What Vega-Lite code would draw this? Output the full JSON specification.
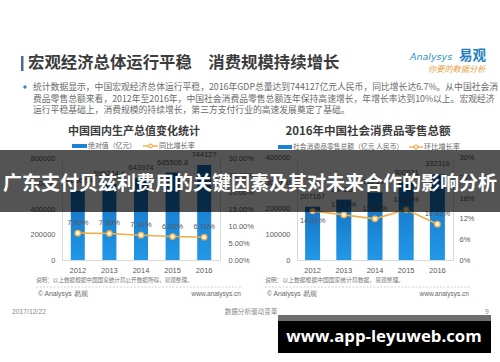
{
  "$schema": "https://vega.github.io/schema/vega-lite/v6.json",
  "width": 500,
  "height": 362,
  "autosize": {"type": "none"},
  "padding": 0,
  "background": "white",
  "config": {"view": {"stroke": null}, "font": "Noto Sans CJK SC"},
  "datasets": {
    "gdp": [
      {"year": "2012", "value": 540367.4, "growth": 0.079},
      {"year": "2013", "value": 595244.4, "growth": 0.078},
      {"year": "2014", "value": 643974, "growth": 0.073},
      {"year": "2015", "value": 685505.8, "growth": 0.069},
      {"year": "2016", "value": 744127, "growth": 0.067}
    ],
    "retail": [
      {"year": "2012", "value": 207167, "growth": 0.1431},
      {"year": "2013", "value": 234380, "growth": 0.1314},
      {"year": "2014", "value": 262394, "growth": 0.1198},
      {"year": "2015", "value": 300931, "growth": 0.1469},
      {"year": "2016", "value": 332316, "growth": 0.1043}
    ]
  },
  "data": {"values": [{}]},
  "resolve": {"scale": {"x": "independent", "y": "independent"}, "axis": {"x": "independent", "y": "independent"}},
  "layer": [
    {
      "data": {"name": "gdp"},
      "mark": {"type": "bar", "width": 14, "color": {"gradient": "linear", "x1": 0, "y1": 0, "x2": 0, "y2": 1, "stops": [{"offset": 0, "color": "#1570c4"}, {"offset": 1, "color": "#2198e6"}]}},
      "encoding": {
        "x": {"field": "year", "type": "ordinal", "scale": {"range": [62, 220]}, "axis": {"orient": "bottom", "offset": -102, "ticks": false, "domainColor": "#d9d9d9", "labelColor": "#595959", "labelFont": "Liberation Sans", "labelFontSize": 7.5, "labelPadding": 6, "labelAngle": 0, "title": null}},
        "y": {"field": "value", "type": "quantitative", "scale": {"domain": [0, 800000], "range": [260, 158], "nice": false}, "axis": {"orient": "left", "offset": -62, "values": [0, 200000, 400000, 600000, 800000], "format": "d", "ticks": false, "grid": false, "domainColor": "#d9d9d9", "labelColor": "#595959", "labelFont": "Liberation Sans", "labelFontSize": 7.5, "labelPadding": 7, "title": null}}
      }
    },
    {
      "data": {"name": "gdp"},
      "mark": {"type": "text", "dy": -10, "color": "#595959", "font": "Liberation Sans", "fontSize": 7.5},
      "encoding": {
        "x": {"field": "year", "type": "ordinal", "scale": {"range": [62, 220]}, "axis": null},
        "y": {"field": "value", "type": "quantitative", "scale": {"domain": [0, 800000], "range": [260, 158], "nice": false}, "axis": null},
        "text": {"field": "value", "type": "nominal"}
      }
    },
    {
      "data": {"name": "gdp"},
      "mark": {"type": "line", "color": "#f0ad45", "strokeWidth": 1.6},
      "encoding": {
        "x": {"field": "year", "type": "ordinal", "scale": {"range": [62, 220]}, "axis": null},
        "y": {"field": "growth", "type": "quantitative", "scale": {"domain": [0, 0.3], "range": [260, 158], "nice": false}, "axis": {"orient": "right", "offset": -280, "values": [0, 0.05, 0.1, 0.15, 0.2, 0.25, 0.3], "format": ".2%", "ticks": false, "grid": false, "domainColor": "#d9d9d9", "labelColor": "#595959", "labelFont": "Liberation Sans", "labelFontSize": 7.5, "labelPadding": 8, "title": null}}
      }
    },
    {
      "data": {"name": "gdp"},
      "mark": {"type": "point", "filled": true, "fill": "#fff8ea", "stroke": "#f0ad45", "strokeWidth": 1.3, "size": 30, "opacity": 1},
      "encoding": {
        "x": {"field": "year", "type": "ordinal", "scale": {"range": [62, 220]}, "axis": null},
        "y": {"field": "growth", "type": "quantitative", "scale": {"domain": [0, 0.3], "range": [260, 158], "nice": false}, "axis": null}
      }
    },
    {
      "data": {"name": "gdp"},
      "mark": {"type": "text", "dy": -10, "color": "#595959", "font": "Liberation Sans", "fontSize": 7.5},
      "encoding": {
        "x": {"field": "year", "type": "ordinal", "scale": {"range": [62, 220]}, "axis": null},
        "y": {"field": "growth", "type": "quantitative", "scale": {"domain": [0, 0.3], "range": [260, 158], "nice": false}, "axis": null},
        "text": {"field": "growth", "type": "quantitative", "format": ".2%"}
      }
    },
    {
      "data": {"name": "retail"},
      "mark": {"type": "bar", "width": 15, "color": {"gradient": "linear", "x1": 0, "y1": 0, "x2": 0, "y2": 1, "stops": [{"offset": 0, "color": "#1570c4"}, {"offset": 1, "color": "#2198e6"}]}},
      "encoding": {
        "x": {"field": "year", "type": "ordinal", "scale": {"range": [297, 453]}, "axis": {"orient": "bottom", "offset": -102, "ticks": false, "domainColor": "#d9d9d9", "labelColor": "#595959", "labelFont": "Liberation Sans", "labelFontSize": 7.5, "labelPadding": 6, "labelAngle": 0, "title": null}},
        "y": {"field": "value", "type": "quantitative", "scale": {"domain": [0, 400000], "range": [260, 157], "nice": false}, "axis": {"orient": "left", "offset": -297, "values": [0, 100000, 200000, 300000, 400000], "format": "d", "ticks": false, "grid": false, "domainColor": "#d9d9d9", "labelColor": "#595959", "labelFont": "Liberation Sans", "labelFontSize": 7.5, "labelPadding": 7, "title": null}}
      }
    },
    {
      "data": {"name": "retail"},
      "mark": {"type": "text", "dy": -10, "color": "#595959", "font": "Liberation Sans", "fontSize": 7.5},
      "encoding": {
        "x": {"field": "year", "type": "ordinal", "scale": {"range": [297, 453]}, "axis": null},
        "y": {"field": "value", "type": "quantitative", "scale": {"domain": [0, 400000], "range": [260, 157], "nice": false}, "axis": null},
        "text": {"field": "value", "type": "nominal"}
      }
    },
    {
      "data": {"name": "retail"},
      "mark": {"type": "line", "color": "#f0ad45", "strokeWidth": 1.6},
      "encoding": {
        "x": {"field": "year", "type": "ordinal", "scale": {"range": [297, 453]}, "axis": null},
        "y": {"field": "growth", "type": "quantitative", "scale": {"domain": [0, 0.3], "range": [260, 157], "nice": false}, "axis": {"orient": "right", "offset": -47, "values": [0, 0.06, 0.12, 0.18, 0.24, 0.3], "format": ".0%", "ticks": false, "grid": false, "domainColor": "#d9d9d9", "labelColor": "#595959", "labelFont": "Liberation Sans", "labelFontSize": 7.5, "labelPadding": 6, "title": null}}
      }
    },
    {
      "data": {"name": "retail"},
      "mark": {"type": "point", "filled": true, "fill": "#fff8ea", "stroke": "#f0ad45", "strokeWidth": 1.3, "size": 30, "opacity": 1},
      "encoding": {
        "x": {"field": "year", "type": "ordinal", "scale": {"range": [297, 453]}, "axis": null},
        "y": {"field": "growth", "type": "quantitative", "scale": {"domain": [0, 0.3], "range": [260, 157], "nice": false}, "axis": null}
      }
    },
    {
      "data": {"name": "retail"},
      "transform": [{"filter": "datum.year != '2012'"}],
      "mark": {"type": "text", "dy": -10, "color": "#595959", "font": "Liberation Sans", "fontSize": 7.5},
      "encoding": {
        "x": {"field": "year", "type": "ordinal", "scale": {"domain": ["2012", "2013", "2014", "2015", "2016"], "range": [297, 453]}, "axis": null},
        "y": {"field": "growth", "type": "quantitative", "scale": {"domain": [0, 0.3], "range": [260, 157], "nice": false}, "axis": null},
        "text": {"field": "growth", "type": "quantitative", "format": ".2%"}
      }
    },
    {
      "data": {"name": "retail"},
      "transform": [{"filter": "datum.year == '2012'"}],
      "mark": {"type": "text", "dy": 10, "color": "#595959", "font": "Liberation Sans", "fontSize": 7.5},
      "encoding": {
        "x": {"field": "year", "type": "ordinal", "scale": {"domain": ["2012", "2013", "2014", "2015", "2016"], "range": [297, 453]}, "axis": null},
        "y": {"field": "growth", "type": "quantitative", "scale": {"domain": [0, 0.3], "range": [260, 157], "nice": false}, "axis": null},
        "text": {"field": "growth", "type": "quantitative", "format": ".2%"}
      }
    },
    {"mark": {"type": "rect", "color": "#4a6a8c"}, "encoding": {"x": {"value": 21}, "x2": {"value": 23.5}, "y": {"value": 56}, "y2": {"value": 71}}},
    {"mark": {"type": "text", "text": "宏观经济总体运行平稳　消费规模持续增长", "font": "Noto Sans CJK SC", "fontWeight": "bold", "fontSize": 16.4, "color": "#3c3c3c", "align": "left", "baseline": "middle"}, "encoding": {"x": {"value": 28}, "y": {"value": 63}}},
    {"mark": {"type": "text", "text": "Analysys", "font": "DejaVu Sans", "fontStyle": "italic", "fontSize": 9.5, "color": "#2a8fc8", "align": "left", "baseline": "middle"}, "encoding": {"x": {"value": 410}, "y": {"value": 57}}},
    {"mark": {"type": "text", "text": "易观", "font": "Noto Sans CJK SC", "fontWeight": "bold", "fontSize": 13.5, "color": "#1f7fc0", "align": "left", "baseline": "middle"}, "encoding": {"x": {"value": 459}, "y": {"value": 56}}},
    {"mark": {"type": "text", "text": "你要的数据分析", "font": "Noto Sans CJK SC", "fontStyle": "italic", "fontSize": 8.2, "color": "#e6a040", "align": "left", "baseline": "middle"}, "encoding": {"x": {"value": 428}, "y": {"value": 70}}},
    {"mark": {"type": "circle", "color": "#2b8fd0", "size": 12, "opacity": 1}, "encoding": {"x": {"value": 25}, "y": {"value": 87}}},
    {"mark": {"type": "text", "text": "统计数据显示，中国宏观经济总体运行平稳，2016年GDP总量达到744127亿元人民币，同比增长达6.7%。从中国社会消", "font": "Noto Sans CJK SC", "fontSize": 8.8, "color": "#6a6a6a", "align": "left", "baseline": "middle"}, "encoding": {"x": {"value": 33}, "y": {"value": 87}}},
    {"mark": {"type": "text", "text": "费品零售总额来看，2012年至2016年，中国社会消费品零售总额连年保持高速增长，年增长率达到10%以上。宏观经济", "font": "Noto Sans CJK SC", "fontSize": 8.8, "color": "#6a6a6a", "align": "left", "baseline": "middle"}, "encoding": {"x": {"value": 33}, "y": {"value": 98.5}}},
    {"mark": {"type": "text", "text": "运行平稳基础上，消费规模的持续增长，第三方支付行业的高速发展奠定了基础。", "font": "Noto Sans CJK SC", "fontSize": 8.8, "color": "#6a6a6a", "align": "left", "baseline": "middle"}, "encoding": {"x": {"value": 33}, "y": {"value": 110}}},
    {"mark": {"type": "text", "text": "中国国内生产总值变化统计", "font": "Noto Sans CJK SC", "fontWeight": "bold", "fontSize": 11, "color": "#3c3c3c", "align": "center", "baseline": "middle"}, "encoding": {"x": {"value": 134}, "y": {"value": 132}}},
    {"mark": {"type": "text", "text": "2016年中国社会消费品零售总额", "font": "Noto Sans CJK SC", "fontWeight": "bold", "fontSize": 11.5, "color": "#3c3c3c", "align": "center", "baseline": "middle"}, "encoding": {"x": {"value": 368}, "y": {"value": 132}}},
    {"mark": {"type": "rect", "color": "#1a84d4"}, "encoding": {"x": {"value": 72}, "x2": {"value": 87}, "y": {"value": 144}, "y2": {"value": 148}}},
    {"mark": {"type": "text", "text": "绝对值（亿元）", "font": "Noto Sans CJK SC", "fontSize": 6.9, "color": "#666666", "align": "left", "baseline": "middle"}, "encoding": {"x": {"value": 88}, "y": {"value": 146}}},
    {"mark": {"type": "rule", "color": "#f0ad45", "strokeWidth": 1.4}, "encoding": {"x": {"value": 143}, "x2": {"value": 158}, "y": {"value": 146}}},
    {"mark": {"type": "point", "filled": true, "fill": "#ffffff", "stroke": "#f0ad45", "strokeWidth": 1.2, "size": 14, "opacity": 1}, "encoding": {"x": {"value": 150.5}, "y": {"value": 146}}},
    {"mark": {"type": "text", "text": "同比增长率", "font": "Noto Sans CJK SC", "fontSize": 7.2, "color": "#666666", "align": "left", "baseline": "middle"}, "encoding": {"x": {"value": 159}, "y": {"value": 146}}},
    {"mark": {"type": "rect", "color": "#1a84d4"}, "encoding": {"x": {"value": 278}, "x2": {"value": 292}, "y": {"value": 145}, "y2": {"value": 149}}},
    {"mark": {"type": "text", "text": "社会消费品零售总额（亿元 人民币）", "font": "Noto Sans CJK SC", "fontSize": 6.8, "color": "#666666", "align": "left", "baseline": "middle"}, "encoding": {"x": {"value": 293}, "y": {"value": 147}}},
    {"mark": {"type": "rule", "color": "#f0ad45", "strokeWidth": 1.4}, "encoding": {"x": {"value": 409}, "x2": {"value": 423}, "y": {"value": 147}}},
    {"mark": {"type": "point", "filled": true, "fill": "#ffffff", "stroke": "#f0ad45", "strokeWidth": 1.2, "size": 14, "opacity": 1}, "encoding": {"x": {"value": 416}, "y": {"value": 147}}},
    {"mark": {"type": "text", "text": "环比增长率", "font": "Noto Sans CJK SC", "fontSize": 7.2, "color": "#666666", "align": "left", "baseline": "middle"}, "encoding": {"x": {"value": 424}, "y": {"value": 147}}},
    {"mark": {"type": "text", "text": "说明：以上数据根据中国国家统计局公开数据所得，易观整理。", "font": "Noto Sans CJK SC", "fontSize": 5.6, "color": "#777777", "align": "left", "baseline": "middle"}, "encoding": {"x": {"value": 36}, "y": {"value": 280}}},
    {"mark": {"type": "text", "text": "说明：以上数据根据中国国家统计局数据，易观整理。", "font": "Noto Sans CJK SC", "fontSize": 5.8, "color": "#777777", "align": "left", "baseline": "middle"}, "encoding": {"x": {"value": 265}, "y": {"value": 280}}},
    {"mark": {"type": "rule", "color": "#c4c4c4", "strokeDash": [2, 1.5], "strokeWidth": 0.8}, "encoding": {"x": {"value": 36}, "x2": {"value": 241}, "y": {"value": 287}}},
    {"mark": {"type": "rule", "color": "#c4c4c4", "strokeDash": [2, 1.5], "strokeWidth": 0.8}, "encoding": {"x": {"value": 265}, "x2": {"value": 470}, "y": {"value": 287}}},
    {"mark": {"type": "text", "text": "© Analysys 易观", "font": "Liberation Sans", "fontSize": 6.8, "color": "#666666", "align": "left", "baseline": "middle"}, "encoding": {"x": {"value": 38}, "y": {"value": 293.5}}},
    {"mark": {"type": "text", "text": "www.analysys.cn", "font": "Liberation Sans", "fontSize": 6.5, "color": "#666666", "align": "right", "baseline": "middle"}, "encoding": {"x": {"value": 241}, "y": {"value": 293.5}}},
    {"mark": {"type": "text", "text": "© Analysys 易观", "font": "Liberation Sans", "fontSize": 6.8, "color": "#666666", "align": "left", "baseline": "middle"}, "encoding": {"x": {"value": 267}, "y": {"value": 294}}},
    {"mark": {"type": "text", "text": "www.analysys.cn", "font": "Liberation Sans", "fontSize": 6.5, "color": "#666666", "align": "right", "baseline": "middle"}, "encoding": {"x": {"value": 469}, "y": {"value": 294}}},
    {"mark": {"type": "text", "text": "2017/12/22", "font": "Liberation Sans", "fontSize": 6.8, "color": "#888888", "align": "left", "baseline": "middle"}, "encoding": {"x": {"value": 12}, "y": {"value": 312}}},
    {"mark": {"type": "text", "text": "数据分析驱动变革", "font": "Noto Sans CJK SC", "fontSize": 6.6, "color": "#888888", "align": "center", "baseline": "middle"}, "encoding": {"x": {"value": 251}, "y": {"value": 312}}},
    {"mark": {"type": "text", "text": "9", "font": "Liberation Sans", "fontSize": 6.8, "color": "#888888", "align": "center", "baseline": "middle"}, "encoding": {"x": {"value": 487}, "y": {"value": 312}}},
    {"mark": {"type": "rect", "color": "#000000", "opacity": 0.67}, "encoding": {"x": {"value": 0}, "x2": {"value": 500}, "y": {"value": 150}, "y2": {"value": 212}}},
    {"mark": {"type": "text", "text": "广东支付贝兹利费用的关键因素及其对未来合作的影响分析", "font": "Noto Sans CJK SC", "fontWeight": "bold", "fontSize": 19, "color": "#ffffff", "align": "center", "baseline": "middle"}, "encoding": {"x": {"value": 250}, "y": {"value": 184}}},
    {"mark": {"type": "rect", "color": "#6e6e6e"}, "encoding": {"x": {"value": 278}, "x2": {"value": 491}, "y": {"value": 315}, "y2": {"value": 321}}},
    {"mark": {"type": "rect", "color": "#000000"}, "encoding": {"x": {"value": 278}, "x2": {"value": 491}, "y": {"value": 321}, "y2": {"value": 353}}},
    {"mark": {"type": "text", "text": "www.app-leyuweb.com", "font": "Open Sans", "fontWeight": "bold", "fontSize": 16.8, "color": "#ffffff", "align": "center", "baseline": "middle"}, "encoding": {"x": {"value": 384}, "y": {"value": 337}}}
  ]
}
